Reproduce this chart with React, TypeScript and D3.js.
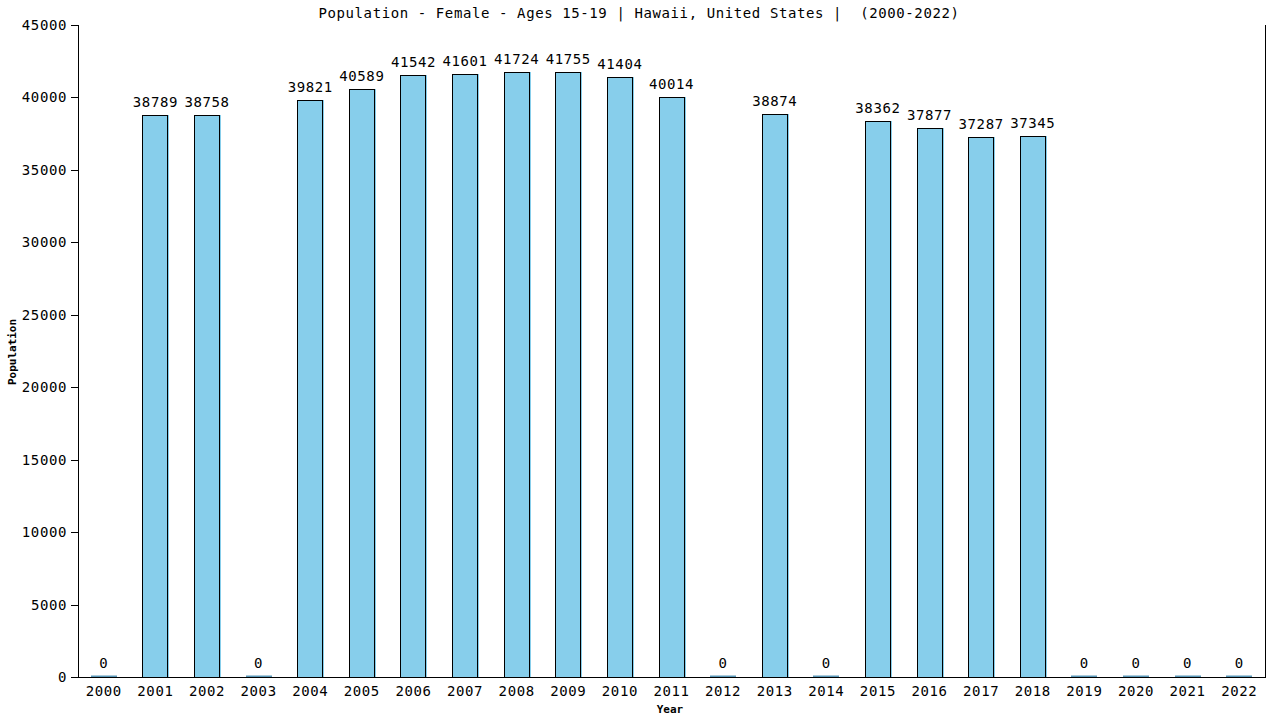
import React from "react";
import * as d3 from "d3";

const years = ["2000","2001","2002","2003","2004","2005","2006","2007","2008","2009","2010","2011","2012","2013","2014","2015","2016","2017","2018","2019","2020","2021","2022"];
const values = [0,38789,38758,0,39821,40589,41542,41601,41724,41755,41404,40014,0,38874,0,38362,37877,37287,37345,0,0,0,0];
const yTicks = [0,5000,10000,15000,20000,25000,30000,35000,40000,45000];
const title = "Population - Female - Ages 15-19 | Hawaii, United States |  (2000-2022)";

const W = 1280, H = 720;
const left = 78, right = 1265, top = 25, bottom = 677;
const FONT = "'DejaVu Sans Mono', monospace";
const FS = 14;
const LS = 0.6;

export default function App() {
  const x = d3.scaleBand<string>().domain(years).range([left, right]).paddingInner(0).paddingOuter(0);
  const y = d3.scaleLinear().domain([0, 45000]).range([bottom, top]);
  const bw = 26;
  const txt = { fontFamily: FONT, fontSize: FS, letterSpacing: LS, fill: "#000" } as const;
  return (
    <svg width={W} height={H} style={{ position: "absolute", left: 0, top: 0, background: "#fff" }}>
      <rect x={0} y={0} width={W} height={H} fill="#fff" />
      <text x={639} y={18} textAnchor="middle" {...txt} style={{ whiteSpace: "pre" }}>{title}</text>
      {years.map((yr, i) => {
        const cx = (x(yr) as number) + x.bandwidth() / 2;
        const v = values[i];
        const x0 = Math.round(cx - bw / 2);
        if (v === 0) {
          return (
            <g key={yr}>
              <rect x={x0} y={bottom - 1.5} width={bw} height={1.5} fill="#5a98b8" />
              <text x={cx} y={bottom - 9} textAnchor="middle" {...txt}>{v}</text>
            </g>
          );
        }
        const yt = Math.round(y(v));
        return (
          <g key={yr}>
            <rect x={x0} y={yt} width={bw + 1} height={bottom - yt} fill="#87ceeb" />
            <rect x={x0 + 0.5} y={yt + 0.5} width={bw - 1} height={bottom - yt} fill="none" stroke="#000" strokeWidth={1} />
            <text x={cx} y={yt - 8} textAnchor="middle" {...txt}>{v}</text>
          </g>
        );
      })}
      <line x1={left + 0.5} x2={left + 0.5} y1={top} y2={bottom} stroke="#000" />
      <line x1={right + 0.5} x2={right + 0.5} y1={top} y2={bottom} stroke="#000" />
      <line x1={left} x2={right + 1} y1={bottom + 0.5} y2={bottom + 0.5} stroke="#000" />
      {yTicks.map((t) => (
        <g key={t}>
          <line x1={left - 7} x2={left} y1={Math.round(y(t)) + 0.5} y2={Math.round(y(t)) + 0.5} stroke="#000" />
          <text x={67} y={Math.round(y(t)) + 5} textAnchor="end" {...txt}>{t}</text>
        </g>
      ))}
      {years.map((yr) => (
        <text key={yr} x={(x(yr) as number) + x.bandwidth() / 2} y={696} textAnchor="middle" {...txt}>{yr}</text>
      ))}
      <text x={670} y={713} textAnchor="middle" fontFamily={FONT} fontSize={11} fontWeight="bold" fill="#000">Year</text>
      <text transform="translate(16,352) rotate(-90)" textAnchor="middle" fontFamily={FONT} fontSize={11} fontWeight="bold" fill="#000">Population</text>
    </svg>
  );
}
